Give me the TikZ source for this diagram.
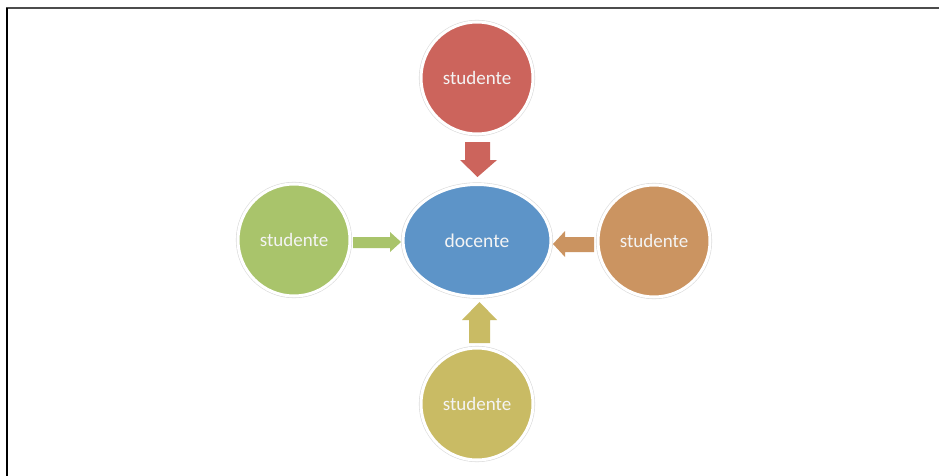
\documentclass[tikz,border=0pt]{standalone}
\usepackage{fontspec}
\setmainfont{Carlito}
\usetikzlibrary{shapes.geometric}
\definecolor{cred}{HTML}{CC645C}
\definecolor{cblue}{HTML}{5D94C8}
\definecolor{cgreen}{HTML}{A9C46B}
\definecolor{corange}{HTML}{CB9461}
\definecolor{colive}{HTML}{C9BB64}
\definecolor{ctext}{HTML}{F4F4F4}
\tikzset{
  bubble/.style={circle, minimum size=112pt, inner sep=0pt, fill=#1,
    draw=white, line width=3pt,
    preaction={draw=black!14, line width=4.2pt},
    text=ctext, font=\fontsize{19}{21}\selectfont},
  hub/.style={ellipse, minimum width=148pt, minimum height=112pt, inner sep=0pt, fill=cblue,
    draw=white, line width=3pt,
    preaction={draw=black!14, line width=4.2pt},
    text=ctext, font=\fontsize{19.5}{21}\selectfont},
  blockarrow/.style={fill=#1, draw=none},
  frametop/.style={draw=black!70, line width=2pt},
  frameleft/.style={draw=black, line width=2pt}
}
\begin{document}
\begin{tikzpicture}[x=1pt,y=-1pt]
\useasboundingbox (0,0) rectangle (939,476);
\fill[white] (0,0) rectangle (939,476);
\draw[frametop] (6,8.5) -- (939,8.5);
\draw[frameleft] (7,8) -- (7,476);

\node[hub] (doc) at (477,240.5) {docente};
\node[bubble=cred] (top) at (477,78) {studente};
\node[bubble=cgreen] (left) at (294,240) {studente};
\node[bubble=corange] (right) at (654,241) {studente};
\node[bubble=colive] (bot) at (477,404) {studente};

% down arrow (top -> doc)
\fill[blockarrow=cred] (465,142) -- (490,142) -- (490,160) -- (497,160) -- (477.5,177)
  -- (460,160) -- (465,160) -- cycle;
% right arrow (left -> doc)
\fill[blockarrow=cgreen] (353,237) -- (390,237) -- (390,232) -- (401,242) -- (390,252)
  -- (390,248) -- (353,248) -- cycle;
% left arrow (right -> doc)
\fill[blockarrow=corange] (594,237) -- (565,237) -- (565,231) -- (553,244) -- (565,257)
  -- (565,252) -- (594,252) -- cycle;
% up arrow (bot -> doc)
\fill[blockarrow=colive] (469,343) -- (469,320) -- (462,320) -- (479.5,302) -- (497,320)
  -- (490,320) -- (490,343) -- cycle;
\end{tikzpicture}
\end{document}
